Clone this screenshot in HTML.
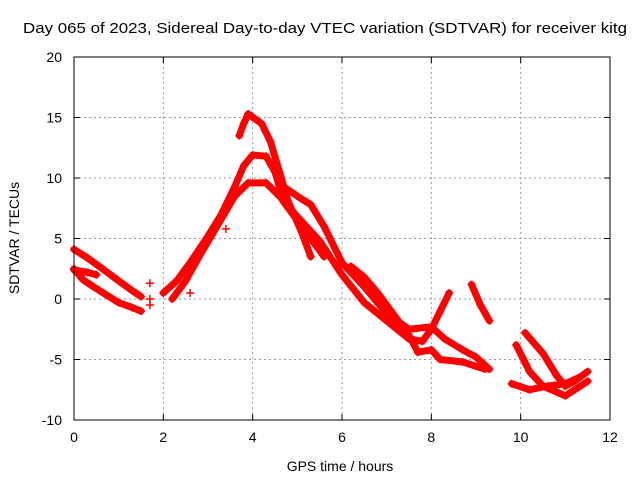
<!DOCTYPE html>
<html><head><meta charset="utf-8"><style>
body{margin:0;background:#fff}
svg{display:block;font-family:"Liberation Sans",sans-serif}
</style></head><body>
<svg id="c" width="640" height="480">
<rect width="640" height="480" fill="#fff"/>
<text x="325" y="33" font-size="15" text-anchor="middle" textLength="604" lengthAdjust="spacingAndGlyphs">Day 065 of 2023, Sidereal Day-to-day VTEC variation (SDTVAR) for receiver kitg</text>
<text x="340" y="471" font-size="14" text-anchor="middle">GPS time / hours</text>
<text transform="translate(19,238) rotate(-90)" font-size="14" text-anchor="middle">SDTVAR / TECUs</text>
<g id="grid"></g><g id="ticks"></g><g id="marks"></g>
<rect x="74" y="57" width="536" height="363" fill="none" stroke="#000" stroke-width="1"/>
</svg>
<script>
const xTicks=[0,2,4,6,8,10,12];
const yTicks=[-10,-5,0,5,10,15,20];
const s1=[[0,4.1],[0.3,3.4],[0.6,2.6],[1,1.5],[1.3,0.7],[1.5,0.2]];
const s2=[[0,2.5],[0.2,1.6],[0.4,1.1],[0.7,0.4],[1,-0.3],[1.3,-0.7],[1.5,-1.0]];
const s3=[[0,2.4],[0.3,2.2],[0.5,2.0]];
const s4=[[2,0.5],[2.3,1.5],[2.6,3],[3,5.2],[3.3,7],[3.6,9.3],[3.8,11],[4,11.9],[4.3,11.8],[4.5,10.5],[4.7,8],[5,6.5],[5.3,5],[5.6,3.5]];
const s5=[[2.2,0],[2.5,1.5],[2.8,3.5],[3.2,6],[3.6,8.5],[3.9,9.6],[4.3,9.6],[4.6,8.5],[5,6.8],[5.5,4.8],[6,2],[6.5,-0.3],[7,-1.8],[7.5,-3.3],[7.8,-3.5],[8,-2.5],[8.2,-1],[8.4,0.5]];
const s6=[[3.7,13.5],[3.8,14.5],[3.9,15.3],[4.2,14.5],[4.4,13],[4.6,10.5],[4.8,8],[5.1,5.5],[5.3,3.5]];
const s7=[[4.6,9.5],[5,8.5],[5.3,7.8],[5.6,6],[6,3],[6.5,1],[7,-1.2],[7.5,-2.5],[8,-2.3],[8.3,-3.3],[8.7,-4.2],[9,-4.8],[9.3,-5.8]];
const s8=[[6.2,2.7],[6.5,1.8],[6.8,0.5],[7,-0.5],[7.3,-2],[7.5,-3],[7.7,-4.4],[8,-4.2],[8.2,-5],[8.7,-5.2],[9.2,-5.8]];
const s9=[[8.9,1.2],[9.1,-0.5],[9.3,-1.8]];
const s10=[[10.1,-2.8],[10.5,-4.5],[10.8,-6.3],[11,-7.2],[11.2,-6.8],[11.5,-6.0]];
const s11=[[9.9,-3.8],[10.2,-6],[10.5,-7.2],[11,-8],[11.5,-6.8]];
const s12=[[9.8,-7],[10.2,-7.5],[10.6,-7.2],[11,-7],[11.3,-6.5]];
const strays=[[1.7,1.3],[1.7,0],[1.7,-0.5],[3.4,5.8],[2.6,0.5]];
const series=[s1,s2,s3,s4,s5,s6,s7,s8,s9,s10,s11,s12];
const X=t=>74+t*536/12;
const Y=v=>57+(20-v)*363/30;
const NS="http://www.w3.org/2000/svg";
function mk(tag,attrs,parent){const e=document.createElementNS(NS,tag);for(const k in attrs)e.setAttribute(k,attrs[k]);document.getElementById(parent).appendChild(e);return e;}
xTicks.forEach(t=>{
  if(t>0&&t<12){const g=mk('line',{x1:X(t),x2:X(t),y1:57,y2:420,stroke:'#999','stroke-dasharray':'2,3'},'grid');
  
  }
  mk('line',{x1:X(t),x2:X(t),y1:420,y2:414,stroke:'#000'},'ticks');
  mk('line',{x1:X(t),x2:X(t),y1:57,y2:63,stroke:'#000'},'ticks');
  const l=mk('text',{x:X(t),y:442,'font-size':14,'text-anchor':'middle'},'ticks');l.textContent=t;
  
  
});
yTicks.forEach(v=>{
  if(v>-10&&v<20){const g=mk('line',{x1:74,x2:610,y1:Y(v),y2:Y(v),stroke:'#999','stroke-dasharray':'2,3'},'grid');
  
  }
  mk('line',{x1:74,x2:80,y1:Y(v),y2:Y(v),stroke:'#000'},'ticks');
  mk('line',{x1:604,x2:610,y1:Y(v),y2:Y(v),stroke:'#000'},'ticks');
  const l=mk('text',{x:62,y:Y(v)+5,'font-size':14,'text-anchor':'end'},'ticks');l.textContent=v;
  
  
});
function plus(t,v){
  const p=mk('path',{d:`M${X(t)-4},${Y(v)}h8M${X(t)},${Y(v)-4}v8`,stroke:'#f00','stroke-width':1.5},'marks');
  
  
}
series.forEach((s,i)=>{
  const pl=mk('polyline',{points:s.map(p=>X(p[0])+','+Y(p[1])).join(' '),fill:'none',stroke:'#f00','stroke-width':7,'stroke-linejoin':'round','stroke-linecap':'round'},'marks');
  
  
  s.forEach(p=>plus(p[0],p[1]));
});
strays.forEach(p=>plus(p[0],p[1]));
</script>
</body></html>
